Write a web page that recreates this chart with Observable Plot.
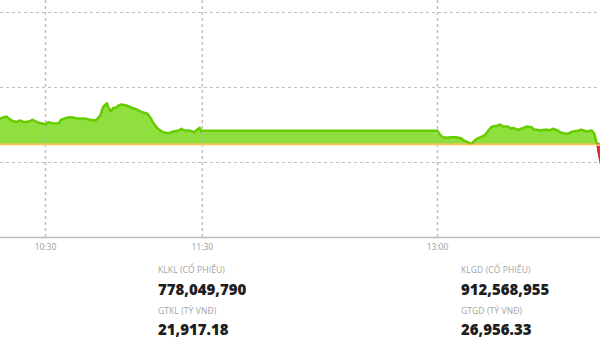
<!DOCTYPE html>
<html>
<head>
<meta charset="utf-8">
<script src="https://cdn.jsdelivr.net/npm/d3@7"></script>
<script src="https://cdn.jsdelivr.net/npm/@observablehq/plot@0.6"></script>
<style>
  html, body { margin: 0; padding: 0; background: #fff; }
  body { width: 600px; height: 338px; position: relative; overflow: hidden; font-family: "Open Sans", sans-serif; }
  #chart { position: absolute; left: 0; top: 0; }
  .stat { position: absolute; }
  .lbl { font-size: 8.5px; color: #a3a3a3; letter-spacing: 0.1px; line-height: 1; }
  .num { font-size: 15px; font-weight: 800; color: #1e1e1e; line-height: 1; }
</style>
</head>
<body>
<div id="chart"></div>
<script>
// ---- data ----
const times = [
  "10:12:30","10:15:00","10:17:00","10:19:00","10:20:00","10:22:00","10:24:00","10:25:00","10:27:00","10:29:00",
  "10:30:00","10:31:00","10:33:00","10:35:00","10:36:00","10:38:00","10:40:00","10:42:00","10:44:00","10:45:00",
  "10:47:00","10:49:00","10:50:00","10:51:00","10:52:00","10:53:30","10:54:00","10:55:00","10:56:00","10:57:00",
  "10:58:00","10:59:00","11:01:00","11:03:00","11:05:00","11:07:00","11:09:00","11:10:00","11:11:30","11:13:00",
  "11:15:00","11:17:00","11:19:00","11:21:00","11:22:00","11:23:00","11:25:00","11:27:00","11:28:00","11:29:00",
  "11:29:40","11:30:00","13:00:00","13:01:00","13:02:00","13:04:00","13:05:00","13:07:00","13:09:00","13:10:00",
  "13:11:30","13:13:00","13:14:00","13:15:00","13:16:30","13:18:00","13:19:00","13:20:00","13:21:00","13:23:00",
  "13:24:00","13:25:00","13:27:00","13:28:00","13:29:00","13:31:00","13:32:00","13:33:00","13:34:00","13:36:00",
  "13:37:00","13:38:00","13:39:00","13:41:00","13:42:00","13:43:00","13:44:00","13:46:00","13:47:00","13:48:00",
  "13:50:00","13:51:00","13:52:00","13:54:00","13:55:00","13:56:00","13:57:00","13:59:00","14:00:00","14:00:30",
  "14:01:00","14:01:30","14:02:00","14:02:30"
];
const values = [
  1202.93,1203.07,1202.80,1202.69,1202.80,1202.69,1202.75,1202.85,1202.67,1202.58,
  1202.53,1202.69,1202.60,1202.62,1202.85,1202.98,1203.02,1202.93,1202.93,1202.93,
  1202.85,1202.80,1202.93,1203.13,1203.69,1203.95,1203.69,1203.42,1203.65,1203.65,
  1203.80,1203.87,1203.80,1203.65,1203.53,1203.35,1203.25,1203.02,1202.58,1202.25,
  1202.02,1201.95,1202.07,1202.13,1202.25,1202.13,1202.13,1202.02,1202.18,1202.31,
  1202.02,1202.11,1202.11,1201.85,1201.69,1201.65,1201.69,1201.69,1201.62,1201.47,
  1201.35,1201.20,1201.42,1201.58,1201.69,1201.80,1202.02,1202.25,1202.40,1202.47,
  1202.53,1202.40,1202.40,1202.25,1202.31,1202.18,1202.25,1202.31,1202.40,1202.35,
  1202.18,1202.18,1202.13,1202.18,1202.18,1202.13,1202.25,1202.13,1202.02,1201.95,
  1201.91,1202.02,1202.07,1202.13,1202.18,1202.13,1202.07,1202.13,1201.91,1201.58,
  1201.22,1200.69,1200.25,1199.80
];
const referenceValue = 1201.23;
const gridValues = [1200, 1205, 1210];
const axisBaseValue = 1195;
const tickLabels = ["10:30", "11:30", "13:00"];
const domainStart = "10:12:47";
const domainEnd = "14:02:22";

const statLabels = ["KLKL (CỔ PHIẾU)", "GTKL (TỶ VNĐ)", "KLGD (CỔ PHIẾU)", "GTGD (TỶ VNĐ)"];
const statValues = ["778,049,790", "21,917.18", "912,568,955", "26,956.33"];

// ---- build ----
const parseT = d3.utcParse("%H:%M:%S");
const parseHM = d3.utcParse("%H:%M");
const data = times.map((t, i) => ({t: parseT(t), v: values[i]}));
const tickTimes = tickLabels.map(parseHM);
const tailData = data.slice(data.length - 4);

const chart = Plot.plot({
  width: 600,
  height: 255,
  marginTop: 0,
  marginLeft: 0,
  marginRight: 0,
  marginBottom: 18,
  style: {background: "transparent", fontFamily: "Open Sans, sans-serif"},
  x: {type: "utc", domain: [parseT(domainStart), parseT(domainEnd)], axis: null, label: null},
  y: {domain: [axisBaseValue, 1210.8], axis: null, label: null},
  marks: [
    Plot.ruleY(gridValues, {stroke: "#bdbdbd", strokeWidth: 1, strokeDasharray: "3,3"}),
    Plot.areaY(data, {x: "t", y1: () => referenceValue, y2: d => Math.max(d.v, referenceValue), fill: "#8fe03f", curve: "linear"}),
    Plot.areaY(data, {x: "t", y1: () => referenceValue, y2: d => Math.min(d.v, referenceValue), fill: "#e8323a", curve: "linear"}),
    Plot.line(data, {x: "t", y: d => Math.max(d.v, referenceValue), stroke: "#66cc00", strokeWidth: 2.5, curve: "linear"}),
    Plot.line(tailData, {x: "t", y: "v", stroke: "#d8202a", strokeWidth: 1.5, curve: "linear"}),
    Plot.ruleX(tickTimes, {stroke: "#b5b5b5", strokeOpacity: 0.85, strokeWidth: 1.5, strokeDasharray: "3,3"}),
    Plot.ruleY([referenceValue], {stroke: "#ffe9b0", strokeWidth: 1.5, dy: 1}),
    Plot.ruleY([referenceValue], {stroke: "#e8a000", strokeWidth: 1}),
    Plot.ruleY([axisBaseValue], {stroke: "#bdbdbd", strokeWidth: 1.5}),
    Plot.axisX(tickTimes, {tickSize: 0, tickPadding: 6.5, label: null, tickFormat: d3.utcFormat("%H:%M"), fontSize: 8.5, fill: "#9a9a9a", color: "#9a9a9a"})
  ]
});
document.getElementById("chart").appendChild(chart);

// ---- stats below ----
const positions = [[158, 266], [158, 307], [461, 266], [461, 307]];
statLabels.forEach((lab, i) => {
  const div = document.createElement("div");
  div.className = "stat";
  div.style.left = positions[i][0] + "px";
  div.style.top = positions[i][1] + "px";
  div.innerHTML = `<div class="lbl">${lab}</div><div class="num" style="margin-top:${i % 2 === 0 ? 7 : 6}px">${statValues[i]}</div>`;
  document.body.appendChild(div);
});
</script>
</body>
</html>
